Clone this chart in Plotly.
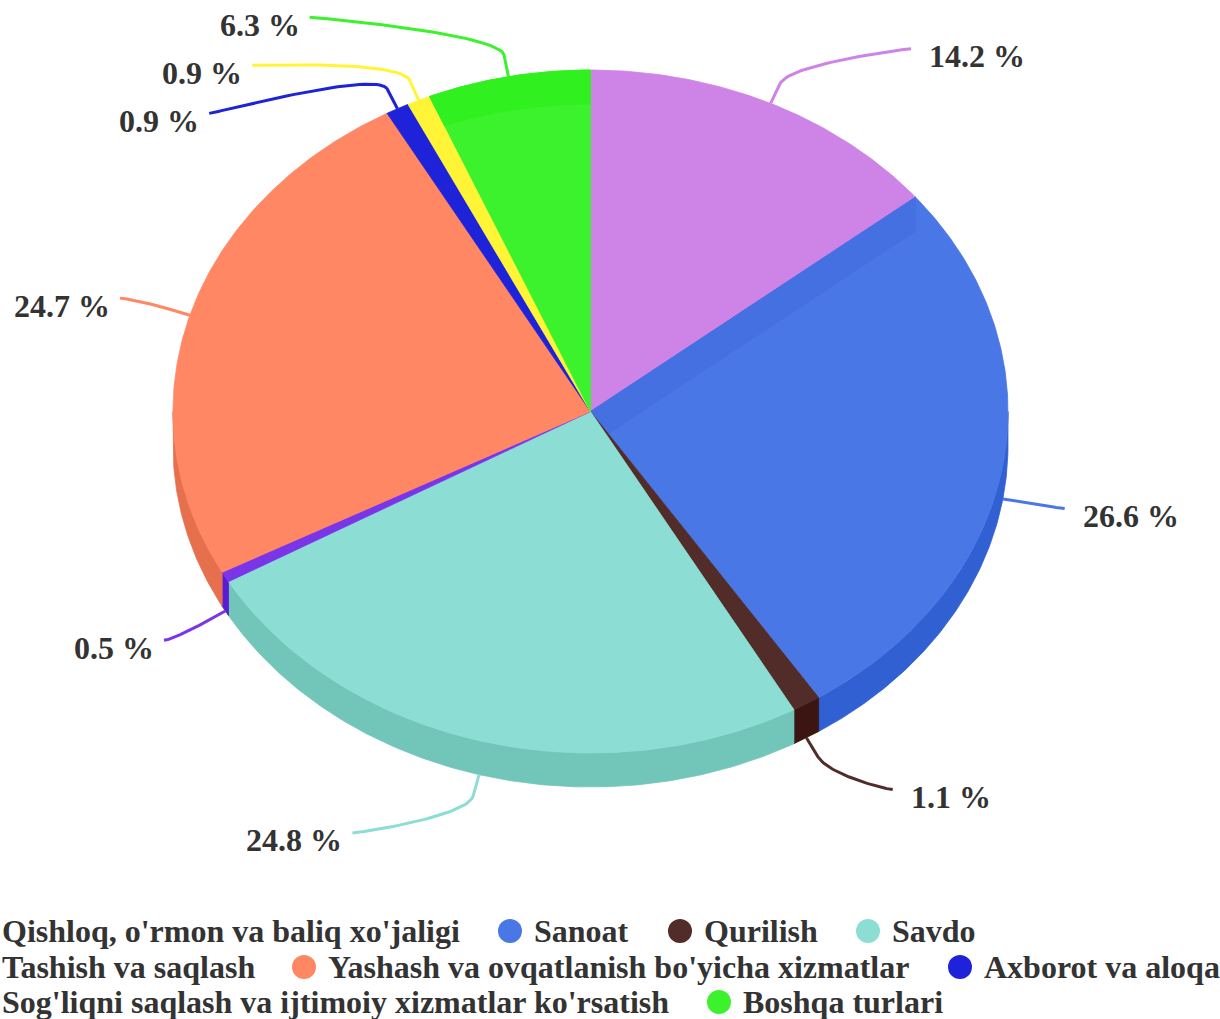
import numpy as np
import plotly.graph_objects as go

# ---- data -------------------------------------------------------------
categories = [
    "Qishloq, o'rmon va baliq xo'jaligi",
    "Sanoat",
    "Qurilish",
    "Savdo",
    "Tashish va saqlash",
    "Yashash va ovqatlanish bo'yicha xizmatlar",
    "Axborot va aloqa",
    "Sog'liqni saqlash va ijtimoiy xizmatlar ko'rsatish",
    "Boshqa turlari",
]
shares = [14.2, 26.6, 1.1, 24.8, 0.5, 24.7, 0.9, 0.9, 6.3]

# ---- styling ----------------------------------------------------------
top_colors = ["#CD84E6", "#4A77E6", "#522C29", "#8CDDD3", "#7B35E8",
              "#FF8764", "#1E22D8", "#FFF536", "#3BF22C"]
side_colors = ["#B96FD2", "#3160D2", "#3A1512", "#72C5B9", "#5A1CD2",
               "#E6704E", "#1418B8", "#E6DC20", "#2ED81E"]
rim_colors = [None, None, None, None, None, None, None, None, "#31F01F"]
start_wall_colors = [None, "#4570E2", None, None, None, None, None, None, None]

W, H = 1220, 1019
CX, CY = 590.5, 411.5          # centre of the top face
RX, RY = 417.5, 341.5          # tilted pie radii
DEPTH = 34                     # thickness of the pie
LABEL_RY = 402                 # vertical label distance
LABEL_R = 484                  # label circle radius
BREAK = 22                     # length of connector stub
GAP = 48                       # minimum vertical spacing between labels
LABEL_FONT = dict(family="Liberation Serif", size=32, color="#333333", weight="bold")
LEGEND_FONT = dict(family="Liberation Serif", size=32, color="#333333", weight="bold")

# legend rows: (row y, [(slice index, marker centre x), ...])
LEGEND_ROWS = [
    (931, [(0, -22), (1, 510), (2, 680), (3, 868)]),
    (967, [(4, -22), (5, 304), (6, 960)]),
    (1002, [(7, -22), (8, 719)]),
]


def rim(theta, drop=0.0):
    t = np.radians(theta)
    return CX + RX * np.sin(t), CY - RY * np.cos(t) + drop


def arc(a, b, drop=0.0):
    n = max(int(abs(b - a) * 2) + 2, 3)
    th = np.linspace(a, b, n)
    x, y = rim(th, drop)
    return list(x), list(y)


fig = go.Figure()


def poly(x, y, color):
    fig.add_trace(go.Scatter(
        x=x + [x[0]], y=y + [y[0]], mode="lines", fill="toself",
        fillcolor=color, line=dict(color=color, width=0.8),
        hoverinfo="skip", showlegend=False))


total = float(sum(shares))
ends = np.cumsum(shares) / total * 360.0
starts = np.concatenate([[0.0], ends[:-1]])

# front walls (visible between 90 and 270 degrees)
for i in range(len(shares)):
    lo, hi = max(starts[i], 90.0), min(ends[i], 270.0)
    if hi > lo:
        tx, ty = arc(lo, hi)
        bx, by = arc(hi, lo, DEPTH)
        poly(tx + bx, ty + by, side_colors[i])

# top faces, each followed by its own radial wall so later slices cover it
for i in range(len(shares)):
    ax_, ay_ = arc(starts[i], ends[i])
    poly([CX] + ax_, [CY] + ay_, top_colors[i])
    if start_wall_colors[i]:
        ex, ey = rim(starts[i])
        poly([CX, ex, ex, CX], [CY, ey, ey + DEPTH, CY + DEPTH], start_wall_colors[i])

# rear rim band drawn over the top face
k = DEPTH / RY
for i, col in enumerate(rim_colors):
    if not col:
        continue
    th = np.linspace(starts[i], ends[i], max(int((ends[i] - starts[i]) * 2) + 2, 3))
    c = np.cos(np.radians(th))
    s = -c * k + np.sqrt(c * c * k * k - k * k + 1)
    ox, oy = rim(th)
    ix = CX + s * RX * np.sin(np.radians(th))
    iy = CY - s * RY * c
    poly(list(ox) + list(ix[::-1]), list(oy) + list(iy[::-1]), col)

# ---- data labels with connectors ----------------------------------------
labels = []
for i, v in enumerate(shares):
    mid = (starts[i] + ends[i]) / 2.0
    t = np.radians(mid)
    front = np.cos(t) < 0
    drop = DEPTH if front else 0.0
    tx, ty = rim(mid, drop)
    labels.append(dict(
        i=i, v=v, right=np.sin(t) >= 0,
        touch=(tx, ty),
        brk=(tx + BREAK * np.sin(t), ty - BREAK * np.cos(t)),
        y=CY - LABEL_RY * np.cos(t) + drop))

for side in (True, False):
    group = sorted([l for l in labels if l["right"] == side], key=lambda l: l["y"])
    for a, b in zip(group, group[1:]):
        if b["y"] < a["y"] + GAP:
            b["y"] = a["y"] + GAP

for l in labels:
    dy = l["y"] - CY
    dx = np.sqrt(max(LABEL_R ** 2 - dy ** 2, 0.0))
    ex = CX + dx if l["right"] else CX - dx
    ey = l["y"]
    p0 = np.array([ex, ey])
    p1 = np.array([ex + (-5 if l["right"] else 5), ey])
    p3 = np.array(l["brk"])
    p2 = 2 * p3 - np.array(l["touch"])
    tt = np.linspace(0, 1, 40)[:, None]
    curve = ((1 - tt) ** 3) * p0 + 3 * ((1 - tt) ** 2) * tt * p1 \
        + 3 * (1 - tt) * tt ** 2 * p2 + tt ** 3 * p3
    xs = list(curve[:, 0]) + [l["touch"][0]]
    ys = list(curve[:, 1]) + [l["touch"][1]]
    fig.add_trace(go.Scatter(
        x=xs, y=ys, mode="lines",
        line=dict(color=top_colors[l["i"]], width=3),
        hoverinfo="skip", showlegend=False))
    fig.add_annotation(
        x=ex + 16 if l["right"] else ex - 8, y=ey + 7.5,
        xref="x", yref="y", text=f"{l['v']} %", showarrow=False,
        xanchor="left" if l["right"] else "right", yanchor="middle",
        font=LABEL_FONT)

# ---- legend -----------------------------------------------------------
for row_y, items in LEGEND_ROWS:
    for idx, mx in items:
        fig.add_trace(go.Scatter(
            x=[mx], y=[row_y], mode="markers",
            marker=dict(symbol="circle", size=24, color=top_colors[idx]),
            hoverinfo="skip", showlegend=False))
        fig.add_annotation(
            x=mx + 22, y=row_y, xref="x", yref="y", text=categories[idx],
            showarrow=False, xanchor="left", yanchor="middle",
            font=LEGEND_FONT)

fig.update_layout(
    width=W, height=H, margin=dict(l=0, r=0, t=0, b=0),
    paper_bgcolor="white", plot_bgcolor="white", showlegend=False,
    xaxis=dict(range=[0, W], visible=False, fixedrange=True),
    yaxis=dict(range=[H, 0], visible=False, fixedrange=True),
)

fig.write_html("out.html")
